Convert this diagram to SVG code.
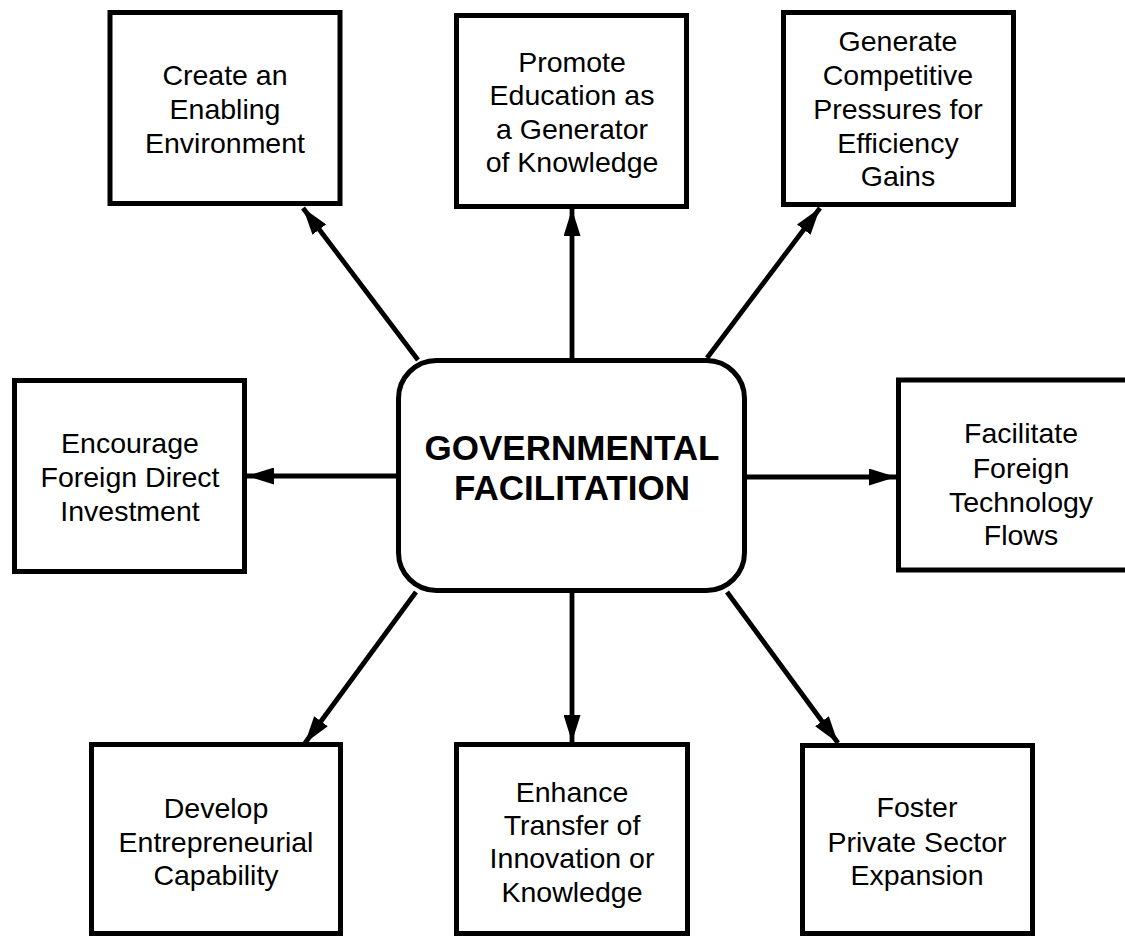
<svg xmlns="http://www.w3.org/2000/svg" width="1125" height="936" viewBox="0 0 1125 936">
  <defs>
    <style>
      .box { fill: #ffffff; stroke: #000000; stroke-width: 5; }
      .hub { fill: #ffffff; stroke: #000000; stroke-width: 5; }
      .lbl { font-family: "Liberation Sans", Arial, sans-serif; font-size: 28.5px; fill: #000000; text-anchor: middle; }
      .hubtxt { font-family: "Liberation Sans", Arial, sans-serif; font-size: 35px; font-weight: bold; fill: #000000; text-anchor: middle; }
      .conn { stroke: #000000; stroke-width: 4.8; fill: none; marker-end: url(#head); }
    </style>
    <marker id="head" markerUnits="userSpaceOnUse" markerWidth="27" markerHeight="17" refX="27" refY="8.5" orient="auto">
      <path d="M0,0 L27,8.5 L0,17 z" fill="#000000"/>
    </marker>
  </defs>
  <rect width="1125" height="936" fill="#ffffff"/>

  <!-- spokes from the hub to each outer box -->
  <g id="connectors">
    <line class="conn" x1="572" y1="358" x2="572" y2="209"/>
    <line class="conn" x1="572" y1="593" x2="572" y2="742"/>
    <line class="conn" x1="396" y1="476" x2="247" y2="476"/>
    <line class="conn" x1="747" y1="477" x2="896" y2="477"/>
    <line class="conn" x1="418" y1="360" x2="303" y2="208"/>
    <line class="conn" x1="707" y1="358" x2="820" y2="208"/>
    <line class="conn" x1="416" y1="592" x2="305" y2="743"/>
    <line class="conn" x1="727" y1="592" x2="838" y2="743"/>
  </g>

  <g id="hub">
    <rect class="hub" x="398.5" y="360.5" width="346" height="230" rx="38" ry="38"/>
    <text class="hubtxt" x="572" y="460">GOVERNMENTAL</text>
    <text class="hubtxt" x="572" y="500">FACILITATION</text>
  </g>

  <g id="enabling-environment">
    <rect class="box" x="110" y="12.5" width="230" height="191"/>
    <text class="lbl" x="225" y="85">Create an</text>
    <text class="lbl" x="225" y="119">Enabling</text>
    <text class="lbl" x="225" y="153">Environment</text>
  </g>

  <g id="education">
    <rect class="box" x="456.5" y="15.5" width="230" height="191"/>
    <text class="lbl" x="572" y="72">Promote</text>
    <text class="lbl" x="572" y="105">Education as</text>
    <text class="lbl" x="572" y="139">a Generator</text>
    <text class="lbl" x="572" y="172">of Knowledge</text>
  </g>

  <g id="competitive-pressures">
    <rect class="box" x="783.5" y="12.5" width="230" height="192"/>
    <text class="lbl" x="898" y="51">Generate</text>
    <text class="lbl" x="898" y="85">Competitive</text>
    <text class="lbl" x="898" y="119">Pressures for</text>
    <text class="lbl" x="898" y="153">Efficiency</text>
    <text class="lbl" x="898" y="186">Gains</text>
  </g>

  <g id="foreign-investment">
    <rect class="box" x="14.5" y="380.5" width="230" height="191"/>
    <text class="lbl" x="130" y="453">Encourage</text>
    <text class="lbl" x="130" y="487">Foreign Direct</text>
    <text class="lbl" x="130" y="521">Investment</text>
  </g>

  <g id="technology-flows">
    <rect class="box" x="898.5" y="380" width="240" height="190"/>
    <text class="lbl" x="1021" y="443">Facilitate</text>
    <text class="lbl" x="1021" y="478">Foreign</text>
    <text class="lbl" x="1021" y="512">Technology</text>
    <text class="lbl" x="1021" y="545">Flows</text>
  </g>

  <g id="entrepreneurial">
    <rect class="box" x="91.5" y="744.5" width="249" height="189"/>
    <text class="lbl" x="216" y="818">Develop</text>
    <text class="lbl" x="216" y="852">Entrepreneurial</text>
    <text class="lbl" x="216" y="885">Capability</text>
  </g>

  <g id="innovation-transfer">
    <rect class="box" x="456.5" y="744.5" width="231" height="189"/>
    <text class="lbl" x="572" y="802">Enhance</text>
    <text class="lbl" x="572" y="835">Transfer of</text>
    <text class="lbl" x="572" y="868">Innovation or</text>
    <text class="lbl" x="572" y="902">Knowledge</text>
  </g>

  <g id="private-sector">
    <rect class="box" x="802.5" y="745.5" width="230" height="188"/>
    <text class="lbl" x="917" y="817">Foster</text>
    <text class="lbl" x="917" y="852">Private Sector</text>
    <text class="lbl" x="917" y="885">Expansion</text>
  </g>
</svg>
